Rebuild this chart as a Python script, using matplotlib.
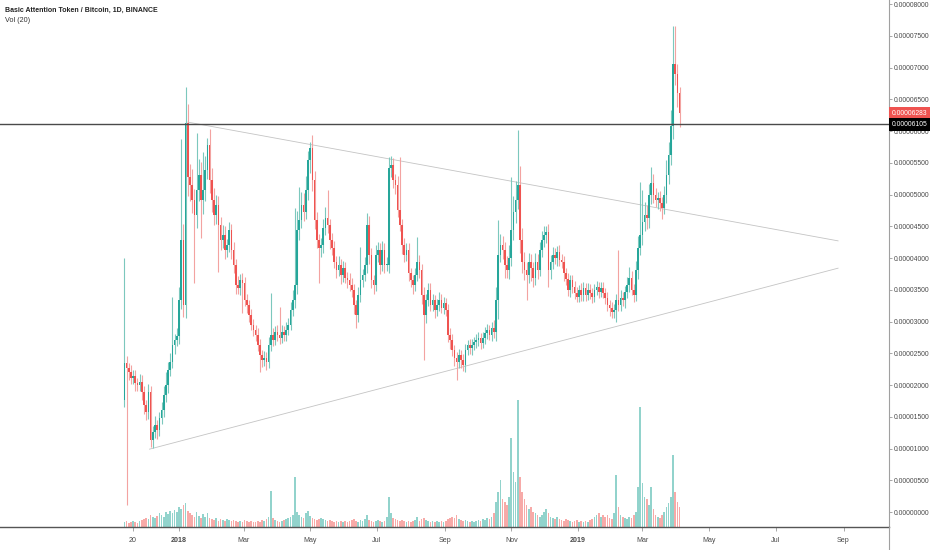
import numpy as np
import matplotlib
matplotlib.use("Agg")
import matplotlib.pyplot as plt
import matplotlib.dates as mdates
from matplotlib.lines import Line2D

plt.rcParams['font.family'] = ['Liberation Sans', 'DejaVu Sans']

# prices in units of 1e-7 BTC, one candle every 2 days from 2017-11-12
SCALE = 1e-7
start_date = np.datetime64('2017-11-12')
step_days = 2
first_open = 176

close = [235, 227, 220, 211, 214, 203, 200, 205, 189, 169,
         157, 189, 113, 126, 137, 129, 148, 161, 184, 200,
         224, 236, 263, 271, 277, 334, 428, 326, 613, 528,
         515, 491, 468, 507, 531, 491, 507, 539, 578, 523,
         491, 468, 484, 452, 428, 436, 413, 420, 444, 413,
         389, 358, 353, 365, 361, 334, 326, 310, 295, 287,
         279, 263, 247, 239, 243, 236, 263, 279, 271, 284,
         279, 274, 284, 279, 287, 295, 318, 334, 358, 444,
         460, 484, 473, 507, 554, 573, 523, 460, 428, 416,
         420, 447, 463, 452, 428, 416, 394, 381, 389, 373,
         384, 369, 365, 358, 350, 326, 310, 342, 365, 373,
         389, 452, 405, 365, 358, 405, 413, 389, 413, 389,
         389, 542, 546, 523, 515, 476, 452, 420, 405, 413,
         376, 365, 358, 373, 394, 381, 342, 310, 334, 350,
         326, 334, 318, 326, 334, 321, 329, 318, 279, 271,
         255, 242, 236, 247, 239, 231, 255, 263, 258, 263,
         268, 271, 274, 266, 274, 282, 287, 279, 290, 284,
         334, 405, 420, 413, 389, 381, 400, 444, 473, 491,
         515, 428, 394, 381, 373, 394, 384, 369, 394, 381,
         413, 428, 436, 441, 381, 394, 405, 400, 410, 397,
         394, 376, 367, 350, 365, 354, 345, 339, 350, 342,
         353, 342, 350, 345, 339, 350, 354, 347, 353, 345,
         337, 326, 321, 315, 318, 334, 326, 337, 334, 347,
         358, 369, 350, 342, 381, 416, 436, 457, 468, 463,
         499, 518, 499, 491, 494, 486, 479, 499, 531, 562,
         608, 705, 690, 660, 628.3]

# wick lengths above / below the body
upper_wick = [165, 10, 8, 12, 9, 10, 8, 12, 10, 9,
              8, 12, 10, 9, 14, 8, 10, 12, 15, 20,
              12, 14, 76, 10, 12, 20, 160, 25, 56, 30,
              20, 25, 18, 90, 25, 20, 60, 22, 11, 25,
              18, 20, 15, 14, 12, 16, 14, 10, 12, 10,
              12, 10, 14, 10, 12, 9, 10, 8, 10, 9,
              8, 10, 9, 8, 10, 9, 12, 66, 10, 9,
              10, 44, 10, 9, 12, 10, 12, 15, 120, 30,
              52, 20, 18, 22, 15, 10, 20, 14, 12, 10,
              12, 14, 18, 44, 10, 12, 10, 9, 14, 10,
              12, 10, 9, 12, 10, 9, 8, 12, 52, 10,
              12, 19, 14, 10, 9, 15, 12, 10, 14, 10,
              12, 17, 15, 12, 10, 14, 83, 10, 12, 10,
              10, 9, 8, 12, 39, 10, 9, 12, 10, 11,
              10, 9, 8, 10, 12, 9, 10, 8, 9, 10,
              9, 8, 10, 9, 8, 10, 9, 8, 10, 9,
              8, 9, 10, 8, 9, 10, 9, 8, 10, 12,
              20, 55, 18, 15, 12, 14, 20, 84, 25, 30,
              86, 30, 20, 15, 12, 14, 12, 10, 14, 12,
              12, 15, 14, 10, 12, 10, 12, 10, 9, 10,
              10, 9, 8, 10, 9, 8, 10, 9, 8, 10,
              9, 8, 10, 9, 8, 9, 10, 8, 9, 10,
              8, 9, 8, 10, 9, 10, 79, 12, 10, 9,
              12, 17, 10, 9, 15, 18, 84, 50, 20, 15,
              18, 25, 14, 12, 10, 12, 10, 14, 23, 20,
              25, 60, 61, 15, 10]

lower_wick = [10, 216, 12, 10, 9, 12, 10, 9, 12, 14,
              12, 10, 11, 12, 10, 14, 10, 9, 12, 10,
              12, 10, 9, 14, 10, 12, 15, 19, 20, 30,
              25, 20, 107, 20, 18, 60, 22, 18, 15, 20,
              18, 16, 14, 74, 15, 12, 14, 12, 10, 14,
              12, 14, 10, 12, 48, 10, 12, 10, 9, 10,
              9, 10, 26, 10, 9, 12, 10, 9, 10, 8,
              9, 10, 8, 9, 10, 8, 9, 10, 12, 14,
              15, 12, 14, 12, 15, 20, 18, 14, 12, 55,
              14, 12, 10, 12, 14, 12, 10, 12, 10, 14,
              10, 9, 12, 10, 12, 14, 20, 10, 12, 10,
              9, 12, 14, 12, 15, 10, 12, 14, 10, 12,
              10, 12, 14, 12, 14, 12, 10, 14, 12, 10,
              12, 10, 14, 10, 9, 12, 14, 71, 12, 10,
              9, 10, 12, 9, 10, 8, 9, 10, 12, 14,
              10, 12, 28, 10, 12, 9, 10, 8, 9, 10,
              8, 9, 10, 9, 8, 10, 9, 8, 9, 10,
              14, 30, 12, 15, 20, 12, 14, 12, 15, 18,
              14, 20, 18, 15, 39, 12, 20, 14, 12, 14,
              10, 12, 10, 12, 27, 14, 12, 10, 12, 10,
              10, 12, 9, 10, 12, 9, 10, 8, 9, 10,
              9, 10, 8, 9, 10, 9, 8, 10, 9, 8,
              10, 9, 12, 10, 9, 19, 10, 9, 10, 12,
              10, 12, 9, 12, 10, 14, 12, 15, 14, 18,
              15, 14, 12, 10, 14, 12, 18, 10, 12, 14,
              15, 20, 18, 22, 22]

volume = [5, 6, 4, 5, 6, 5, 4, 6, 7, 8,
          9, 8, 12, 10, 9, 11, 14, 12, 10, 15,
          13, 16, 14, 17, 15, 20, 18, 22, 24, 16,
          14, 12, 10, 15, 11, 9, 13, 10, 14, 9,
          8, 7, 9, 6, 8, 7, 6, 8, 7, 6,
          7, 6, 5, 6, 5, 7, 6, 5, 6, 5,
          5, 6, 5, 7, 6, 8, 10, 36, 9, 7,
          6, 5, 6, 7, 8, 9, 10, 12, 50, 15,
          12, 10, 9, 14, 16, 11, 9, 8, 7, 8,
          9, 8, 7, 6, 7, 6, 5, 6, 5, 6,
          5, 6, 5, 6, 7, 8, 6, 5, 7, 6,
          8, 12, 7, 6, 5, 6, 7, 6, 5, 6,
          10, 30, 14, 9, 8, 7, 6, 7, 6, 5,
          6, 5, 6, 7, 10, 6, 8, 9, 7, 6,
          5, 6, 5, 6, 5, 6, 5, 6, 8, 9,
          10, 9, 12, 8, 7, 6, 7, 6, 5, 6,
          5, 6, 7, 6, 8, 7, 9, 8, 10, 14,
          25, 35, 47, 28, 25, 22, 30, 89, 55, 45,
          127, 50, 35, 28, 22, 18, 20, 15, 14, 12,
          10, 12, 15, 18, 14, 10, 9, 8, 10, 8,
          7, 6, 8, 7, 6, 5, 6, 7, 5, 6,
          5, 6, 5, 7, 8, 10, 12, 14, 10, 12,
          10, 12, 9, 8, 14, 52, 20, 12, 10, 9,
          8, 10, 9, 12, 15, 40, 120, 44, 30, 28,
          22, 40, 18, 12, 10, 9, 12, 15, 20, 24,
          30, 72, 35, 25, 20]

# drawn trendlines and levels
upper_trend_dates = ['2018-01-09', '2019-08-27']
upper_trend_prices = [614, 427]
lower_trend_dates = ['2017-12-05', '2019-08-27']
lower_trend_prices = [99, 384]
level_price = 610.5
last_price = 628.3

tick_dates = ['2017-11-20', '2018-01-01', '2018-03-01', '2018-05-01', '2018-07-01', '2018-09-01',
              '2018-11-01', '2019-01-01', '2019-03-01', '2019-05-01', '2019-07-01', '2019-09-01']
tick_labels = ['20', '2018', 'Mar', 'May', 'Jul', 'Sep', 'Nov', '2019', 'Mar', 'May', 'Jul', 'Sep']

GREEN = '#26a69a'
RED = '#ef5350'

c = np.array(close, dtype=float)
o = np.r_[first_open, c[:-1]]
hi = np.maximum(o, c) + np.array(upper_wick)
lo = np.minimum(o, c) - np.array(lower_wick)
dates = start_date + np.arange(len(c)) * np.timedelta64(step_days, 'D')
x = mdates.date2num(dates)
up = c >= o
body_cols = np.where(up, GREEN, RED)
wick_cols = np.where(up, '#7cc8bd', '#f3a3a1')
vol_cols = np.where(up, '#92d3cc', '#f7aaa8')

fig = plt.figure(figsize=(9.32, 5.5), dpi=100)
ax = fig.add_axes([0, 23 / 550, 889 / 932, 527 / 550])

# volume overlay at the bottom
vax = ax.twinx()
vax.bar(x, volume, width=1.5, color=vol_cols, linewidth=0)
vax.set_ylim(0, max(volume) * 527 / 127)
vax.axis('off')
vax.set_zorder(ax.get_zorder() - 1)
ax.patch.set_visible(False)

ax.vlines(x, lo * SCALE, hi * SCALE, colors=wick_cols, lw=0.8, zorder=2)
ax.bar(x, np.maximum(np.abs(c - o), 1.5) * SCALE, bottom=np.minimum(o, c) * SCALE,
       width=1.5, color=body_cols, linewidth=0, zorder=3)

ax.plot(mdates.date2num(np.array(upper_trend_dates, dtype='datetime64[D]')),
        np.array(upper_trend_prices) * SCALE, color='#c4c4c4', lw=0.6, zorder=1)
ax.plot(mdates.date2num(np.array(lower_trend_dates, dtype='datetime64[D]')),
        np.array(lower_trend_prices) * SCALE, color='#c4c4c4', lw=0.6, zorder=1)
ax.axhline(level_price * SCALE, color='#4a4a4a', lw=1.0, zorder=4)

x0 = mdates.date2num(np.datetime64('2018-01-01'))
ax.set_xlim(x0 - 163.8, x0 + 649.6)
ax.set_ylim(-23.6 * SCALE, 806.3 * SCALE)

ax.yaxis.tick_right()
ax.set_yticks(np.arange(0, 8.01e-5, 5e-6))
ax.set_yticklabels([f'{v:.8f}' for v in np.arange(0, 8.01e-5, 5e-6)])
ax.tick_params(axis='y', labelsize=4.9, labelcolor='#4a4a4a', length=2.5, width=0.6,
               color='#999999', pad=1.2)
ax.set_xticks(mdates.date2num(np.array(tick_dates, dtype='datetime64[D]')))
ax.set_xticklabels(tick_labels)
for lab in ax.get_xticklabels():
    if lab.get_text() in ('2018', '2019'):
        lab.set_fontweight('bold')
ax.tick_params(axis='x', labelsize=5.1, labelcolor='#4a4a4a', length=3, width=0.6,
               color='#999999', pad=4)

for s in ['left', 'top']:
    ax.spines[s].set_visible(False)
ax.spines['right'].set_color('#a0a0a0')
ax.spines['right'].set_linewidth(0.8)
ax.spines['bottom'].set_color('#555555')
ax.spines['bottom'].set_linewidth(1.0)
fig.add_artist(Line2D([889 / 932, 889 / 932], [0, 23 / 550], color='#a0a0a0', lw=0.8))

# price labels on the scale
ytr = ax.get_yaxis_transform()
ax.text(1.003, last_price * SCALE, f'{last_price * SCALE:.8f}', transform=ytr, ha='left',
        va='center', fontsize=4.9, color='white', zorder=10, clip_on=False,
        bbox=dict(boxstyle='square,pad=0.4', fc=RED, ec='none'))
ax.text(1.003, level_price * SCALE, f'{level_price * SCALE:.8f}', transform=ytr, ha='left',
        va='center', fontsize=4.9, color='white', zorder=11, clip_on=False,
        bbox=dict(boxstyle='square,pad=0.4', fc='black', ec='none'))

fig.text(5 / 932, 1 - 10 / 550, 'Basic Attention Token / Bitcoin, 1D, BINANCE', fontsize=5.0,
         fontweight='bold', color='#222222', va='center')
fig.text(5 / 932, 1 - 21 / 550, 'Vol (20)', fontsize=5.2, color='#333333', va='center')

fig.savefig('out.png', dpi=100, facecolor='white')
